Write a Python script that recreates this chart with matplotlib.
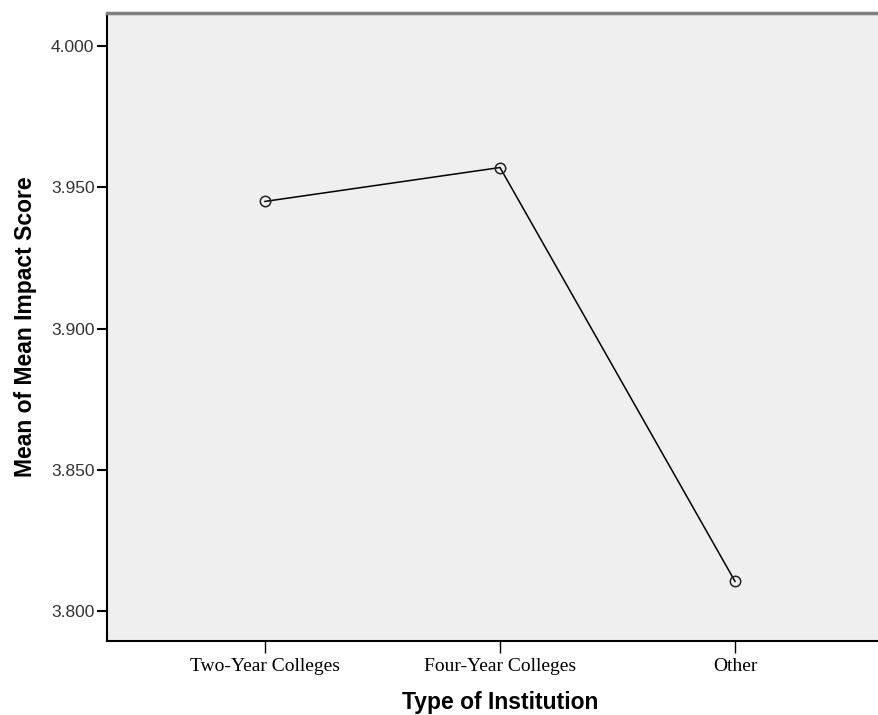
import matplotlib.pyplot as plt

categories = ["Two-Year Colleges", "Four-Year Colleges", "Other"]
means = [3.945, 3.957, 3.8105]
yticks = [3.800, 3.850, 3.900, 3.950, 4.000]

fig = plt.figure(figsize=(8.79, 7.15), dpi=100)
ax = fig.add_axes([107 / 879, 1 - 641 / 715, 786 / 879, 628 / 715])
ax.set_facecolor("#efefef")

x = list(range(len(categories)))
ax.plot(x, means, color="black", lw=1.1, marker="o", markersize=7.5,
        markerfacecolor="none", markeredgecolor="#222222", markeredgewidth=1.1)

ax.set_xlim(-0.672, 2.672)
ax.set_ylim(3.7894, 4.0117)
ax.set_xticks(x)
ax.set_xticklabels(categories, family="Liberation Serif", fontsize=14)
ax.set_yticks(yticks)
ax.set_yticklabels([f"{v:.3f}" for v in yticks], family="Liberation Sans", fontsize=12.5,
                   color="#333333")
ax.tick_params(axis="x", length=8.5, width=1, pad=4)
ax.tick_params(axis="y", length=7, width=1.5, pad=2)

for s in ["left", "bottom"]:
    ax.spines[s].set_linewidth(1.5)
    ax.spines[s].set_color("black")
ax.spines["top"].set_color("#808080")
ax.spines["top"].set_linewidth(2.5)
ax.spines["right"].set_visible(False)

ax.set_ylabel("Mean of Mean Impact Score", family="Liberation Sans", fontsize=16.5,
              fontweight="bold", labelpad=10)
ax.set_xlabel("Type of Institution", family="Liberation Sans", fontsize=16.5,
              fontweight="bold", labelpad=11)

fig.savefig("out.png", dpi=100)
